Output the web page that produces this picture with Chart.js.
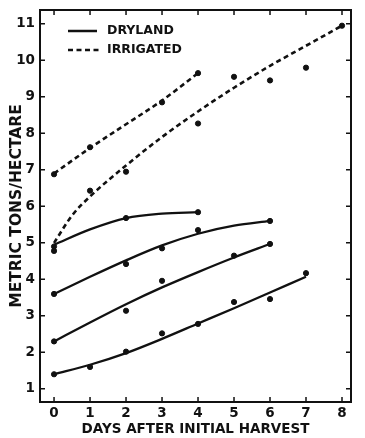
<!DOCTYPE html>
<html>
<head>
<meta charset="utf-8">
<script src="https://cdn.jsdelivr.net/npm/chart.js@4.4.0/dist/chart.umd.min.js"></script>
<style>
  body { margin: 0; background: #fff; }
</style>
</head>
<body>
<canvas id="grafico" width="365" height="438"></canvas>
<script>
// dias depois da colheita inicial
const dias = [0, 1, 2, 3, 4, 5, 6, 7, 8];
const ticksY = [1, 2, 3, 4, 5, 6, 7, 8, 9, 10, 11];
const legendas = ['DRYLAND', 'IRRIGATED'];

// curvas ajustadas (sequeiro), pares [dia, valor]
const secoA = [[0, 4.95], [1, 5.37], [2, 5.68], [3, 5.8], [4, 5.84]];
const secoB = [[0, 3.6], [1, 4.07], [2, 4.52], [3, 4.93], [4, 5.25], [5, 5.47], [6, 5.6]];
const secoC = [[0, 2.3], [1, 2.82], [2, 3.32], [3, 3.78], [4, 4.2], [5, 4.6], [6, 4.97]];
const secoD = [[0, 1.4], [1, 1.66], [2, 1.98], [3, 2.37], [4, 2.79], [5, 3.21], [6, 3.64], [7, 4.07]];

// curvas ajustadas (irrigado)
const irrigadoA = [[0, 6.9], [1, 7.6], [2, 8.25], [3, 8.9], [4, 9.65]];
const irrigadoB = [[0, 5.0], [0.5, 5.75], [1, 6.27], [2, 7.12], [3, 7.9], [4, 8.6],
                   [5, 9.25], [6, 9.85], [7, 10.4], [8, 10.95]];

// pontos observados [dia, valor]
const pontosSeco = [
  [0, 4.9], [0, 4.78], [2, 5.68], [4, 5.84],
  [0, 3.6], [2, 4.42], [3, 4.85], [4, 5.35], [6, 5.6],
  [0, 2.3], [2, 3.14], [3, 3.96], [5, 4.65], [6, 4.97],
  [0, 1.4], [1, 1.6], [2, 2.02], [3, 2.52], [4, 2.78], [5, 3.38], [6, 3.46], [7, 4.17]
];
const pontosIrrigado = [
  [0, 6.88], [1, 7.62], [3, 8.85], [4, 9.65],
  [1, 6.43], [2, 6.95], [4, 8.27], [5, 9.55], [6, 9.45], [7, 9.8], [8, 10.95]
];

const preto = '#111';
const fonte = '"DejaVu Sans", sans-serif';
const traco = [5, 3.5];

function curva(lista, tracejado) {
  return {
    type: 'line',
    data: lista.map(p => ({ x: p[0], y: p[1] })),
    borderColor: preto,
    borderWidth: tracejado ? 2.6 : 2.3,
    borderDash: tracejado ? traco : [],
    pointRadius: 0,
    cubicInterpolationMode: 'monotone',
    fill: false
  };
}

function pontos(lista) {
  return {
    type: 'scatter',
    data: lista.map(p => ({ x: p[0], y: p[1] })),
    backgroundColor: preto,
    borderColor: preto,
    pointRadius: 2.6,
    showLine: false
  };
}

// moldura, marcas internas e legenda
const moldura = {
  id: 'moldura',
  afterDraw(chart) {
    const { ctx, chartArea: a, scales } = chart;
    ctx.save();
    ctx.strokeStyle = preto;
    ctx.lineWidth = 2;
    ctx.strokeRect(a.left, a.top, a.right - a.left, a.bottom - a.top);

    ctx.lineWidth = 1.5;
    ctx.beginPath();
    scales.x.ticks.forEach(t => {
      const px = scales.x.getPixelForValue(t.value);
      ctx.moveTo(px, a.bottom); ctx.lineTo(px, a.bottom - 5);
      ctx.moveTo(px, a.top); ctx.lineTo(px, a.top + 5);
    });
    scales.y.ticks.forEach(t => {
      const py = scales.y.getPixelForValue(t.value);
      ctx.moveTo(a.left, py); ctx.lineTo(a.left + 5, py);
      ctx.moveTo(a.right, py); ctx.lineTo(a.right - 5, py);
    });
    ctx.stroke();

    ctx.lineWidth = 2.5;
    ctx.beginPath();
    ctx.moveTo(a.left + 28, a.top + 21); ctx.lineTo(a.left + 57, a.top + 21);
    ctx.stroke();
    ctx.setLineDash(traco);
    ctx.beginPath();
    ctx.moveTo(a.left + 28, a.top + 40); ctx.lineTo(a.left + 59, a.top + 40);
    ctx.stroke();
    ctx.setLineDash([]);

    ctx.fillStyle = preto;
    ctx.font = 'bold 12.5px ' + fonte;
    ctx.textBaseline = 'middle';
    ctx.fillText(legendas[0], a.left + 67, a.top + 21);
    ctx.fillText(legendas[1], a.left + 67, a.top + 40);
    ctx.restore();
  }
};

const grafico = new Chart(document.querySelector('#grafico'), {
  data: {
    datasets: [
      curva(secoA, false), curva(secoB, false), curva(secoC, false), curva(secoD, false),
      curva(irrigadoA, true), curva(irrigadoB, true),
      pontos(pontosSeco), pontos(pontosIrrigado)
    ]
  },
  options: {
    responsive: false,
    animation: false,
    layout: { padding: { top: 10, right: 14, left: 0, bottom: 0 } },
    plugins: { legend: { display: false }, tooltip: { enabled: false } },
    scales: {
      x: {
        type: 'linear',
        min: -0.39,
        max: 8.25,
        afterBuildTicks: s => { s.ticks = dias.map(v => ({ value: v })); },
        afterFit: s => { s.height = 36; s.paddingLeft = 0; s.paddingRight = 0; },
        grid: { display: false, drawTicks: false },
        border: { display: false },
        ticks: { color: preto, padding: 3, maxRotation: 0, font: { family: fonte, size: 13.5, weight: 'bold' } },
        title: {
          display: true,
          text: 'DAYS AFTER INITIAL HARVEST',
          color: preto,
          padding: { top: 0, bottom: 0 },
          font: { family: fonte, size: 13.5, weight: 'bold' }
        }
      },
      y: {
        type: 'linear',
        min: 0.64,
        max: 11.38,
        afterBuildTicks: s => { s.ticks = ticksY.map(v => ({ value: v })); },
        afterFit: s => { s.width = 40; s.paddingTop = 0; s.paddingBottom = 0; },
        grid: { display: false, drawTicks: false },
        border: { display: false },
        ticks: { color: preto, padding: 5, font: { family: fonte, size: 13.5, weight: 'bold' } },
        title: {
          display: true,
          text: 'METRIC TONS/HECTARE',
          color: preto,
          padding: { top: 8, bottom: 0 },
          font: { family: fonte, size: 15.5, weight: 'bold' }
        }
      }
    }
  },
  plugins: [moldura]
});
</script>
</body>
</html>
